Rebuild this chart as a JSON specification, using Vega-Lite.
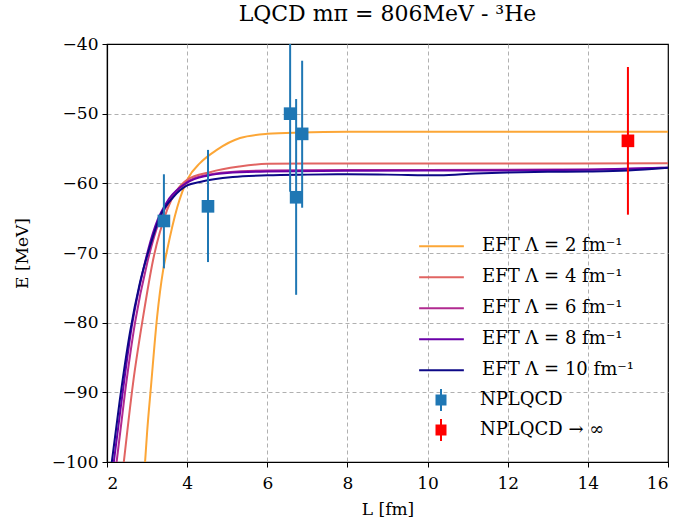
{
  "$schema": "https://vega.github.io/schema/vega-lite/v6.json",
  "width": 561,
  "height": 418,
  "autosize": {"type": "none"},
  "padding": {"left": 107, "top": 44, "right": 13, "bottom": 65},
  "background": "white",
  "title": {"text": "LQCD mπ = 806MeV - ³He", "font": "DejaVu Serif", "fontSize": 22, "fontWeight": "normal", "offset": 9, "color": "#000"},
  "config": {
    "view": {"stroke": "#000", "strokeWidth": 1.2},
    "axis": {
      "labelFont": "DejaVu Serif", "labelFontSize": 17, "labelColor": "#000",
      "titleFont": "DejaVu Serif", "titleFontSize": 17, "titleFontWeight": "normal", "titleColor": "#000",
      "grid": true, "gridColor": "#b0b0b0", "gridDash": [4, 3], "gridWidth": 1,
      "domainColor": "#000", "domainWidth": 1.2, "tickColor": "#000", "tickSize": 5, "tickWidth": 1, "labelPadding": 4
    },
    "legend": {"labelFont": "DejaVu Serif", "labelFontSize": 18, "labelColor": "#000"}
  },
  "datasets": {
    "eft": [
      {"L": 2.95, "E": -100, "model": "EFT Λ = 2 fm⁻¹"},
      {"L": 3.0, "E": -95.8, "model": "EFT Λ = 2 fm⁻¹"},
      {"L": 3.1, "E": -89.0, "model": "EFT Λ = 2 fm⁻¹"},
      {"L": 3.25, "E": -79.2, "model": "EFT Λ = 2 fm⁻¹"},
      {"L": 3.4, "E": -72.5, "model": "EFT Λ = 2 fm⁻¹"},
      {"L": 3.5, "E": -69.6, "model": "EFT Λ = 2 fm⁻¹"},
      {"L": 3.75, "E": -63.5, "model": "EFT Λ = 2 fm⁻¹"},
      {"L": 4.02, "E": -59.3, "model": "EFT Λ = 2 fm⁻¹"},
      {"L": 4.32, "E": -57.1, "model": "EFT Λ = 2 fm⁻¹"},
      {"L": 4.74, "E": -55.2, "model": "EFT Λ = 2 fm⁻¹"},
      {"L": 5.32, "E": -53.5, "model": "EFT Λ = 2 fm⁻¹"},
      {"L": 6.0, "E": -52.9, "model": "EFT Λ = 2 fm⁻¹"},
      {"L": 6.82, "E": -52.7, "model": "EFT Λ = 2 fm⁻¹"},
      {"L": 8.0, "E": -52.6, "model": "EFT Λ = 2 fm⁻¹"},
      {"L": 12.0, "E": -52.6, "model": "EFT Λ = 2 fm⁻¹"},
      {"L": 16.0, "E": -52.6, "model": "EFT Λ = 2 fm⁻¹"},

      {"L": 2.42, "E": -100, "model": "EFT Λ = 4 fm⁻¹"},
      {"L": 2.65, "E": -88.7, "model": "EFT Λ = 4 fm⁻¹"},
      {"L": 2.9, "E": -79.2, "model": "EFT Λ = 4 fm⁻¹"},
      {"L": 3.15, "E": -71.0, "model": "EFT Λ = 4 fm⁻¹"},
      {"L": 3.5, "E": -63.8, "model": "EFT Λ = 4 fm⁻¹"},
      {"L": 4.0, "E": -59.5, "model": "EFT Λ = 4 fm⁻¹"},
      {"L": 4.57, "E": -58.4, "model": "EFT Λ = 4 fm⁻¹"},
      {"L": 5.3, "E": -57.6, "model": "EFT Λ = 4 fm⁻¹"},
      {"L": 6.0, "E": -57.2, "model": "EFT Λ = 4 fm⁻¹"},
      {"L": 8.0, "E": -57.15, "model": "EFT Λ = 4 fm⁻¹"},
      {"L": 12.0, "E": -57.15, "model": "EFT Λ = 4 fm⁻¹"},
      {"L": 16.0, "E": -57.1, "model": "EFT Λ = 4 fm⁻¹"},

      {"L": 2.24, "E": -100, "model": "EFT Λ = 6 fm⁻¹"},
      {"L": 2.45, "E": -90.0, "model": "EFT Λ = 6 fm⁻¹"},
      {"L": 2.7, "E": -80.0, "model": "EFT Λ = 6 fm⁻¹"},
      {"L": 3.0, "E": -71.5, "model": "EFT Λ = 6 fm⁻¹"},
      {"L": 3.3, "E": -65.5, "model": "EFT Λ = 6 fm⁻¹"},
      {"L": 3.65, "E": -61.8, "model": "EFT Λ = 6 fm⁻¹"},
      {"L": 4.0, "E": -59.8, "model": "EFT Λ = 6 fm⁻¹"},
      {"L": 4.5, "E": -58.8, "model": "EFT Λ = 6 fm⁻¹"},
      {"L": 5.0, "E": -58.4, "model": "EFT Λ = 6 fm⁻¹"},
      {"L": 6.0, "E": -58.15, "model": "EFT Λ = 6 fm⁻¹"},
      {"L": 8.0, "E": -58.1, "model": "EFT Λ = 6 fm⁻¹"},
      {"L": 12.0, "E": -58.05, "model": "EFT Λ = 6 fm⁻¹"},
      {"L": 14.0, "E": -58.0, "model": "EFT Λ = 6 fm⁻¹"},
      {"L": 16.0, "E": -57.75, "model": "EFT Λ = 6 fm⁻¹"},

      {"L": 2.17, "E": -100, "model": "EFT Λ = 8 fm⁻¹"},
      {"L": 2.38, "E": -90.5, "model": "EFT Λ = 8 fm⁻¹"},
      {"L": 2.62, "E": -80.5, "model": "EFT Λ = 8 fm⁻¹"},
      {"L": 2.9, "E": -72.5, "model": "EFT Λ = 8 fm⁻¹"},
      {"L": 3.2, "E": -66.2, "model": "EFT Λ = 8 fm⁻¹"},
      {"L": 3.55, "E": -62.2, "model": "EFT Λ = 8 fm⁻¹"},
      {"L": 4.0, "E": -59.9, "model": "EFT Λ = 8 fm⁻¹"},
      {"L": 4.5, "E": -58.9, "model": "EFT Λ = 8 fm⁻¹"},
      {"L": 5.0, "E": -58.5, "model": "EFT Λ = 8 fm⁻¹"},
      {"L": 6.0, "E": -58.3, "model": "EFT Λ = 8 fm⁻¹"},
      {"L": 8.0, "E": -58.2, "model": "EFT Λ = 8 fm⁻¹"},
      {"L": 12.0, "E": -58.15, "model": "EFT Λ = 8 fm⁻¹"},
      {"L": 14.0, "E": -58.05, "model": "EFT Λ = 8 fm⁻¹"},
      {"L": 16.0, "E": -57.75, "model": "EFT Λ = 8 fm⁻¹"},

      {"L": 2.12, "E": -100, "model": "EFT Λ = 10 fm⁻¹"},
      {"L": 2.32, "E": -91.1, "model": "EFT Λ = 10 fm⁻¹"},
      {"L": 2.57, "E": -81.5, "model": "EFT Λ = 10 fm⁻¹"},
      {"L": 2.82, "E": -74.3, "model": "EFT Λ = 10 fm⁻¹"},
      {"L": 3.07, "E": -69.1, "model": "EFT Λ = 10 fm⁻¹"},
      {"L": 3.32, "E": -64.8, "model": "EFT Λ = 10 fm⁻¹"},
      {"L": 3.65, "E": -62.0, "model": "EFT Λ = 10 fm⁻¹"},
      {"L": 4.0, "E": -60.3, "model": "EFT Λ = 10 fm⁻¹"},
      {"L": 4.32, "E": -59.8, "model": "EFT Λ = 10 fm⁻¹"},
      {"L": 5.14, "E": -59.1, "model": "EFT Λ = 10 fm⁻¹"},
      {"L": 6.0, "E": -58.85, "model": "EFT Λ = 10 fm⁻¹"},
      {"L": 7.0, "E": -58.75, "model": "EFT Λ = 10 fm⁻¹"},
      {"L": 8.0, "E": -58.7, "model": "EFT Λ = 10 fm⁻¹"},
      {"L": 9.0, "E": -58.75, "model": "EFT Λ = 10 fm⁻¹"},
      {"L": 10.3, "E": -58.85, "model": "EFT Λ = 10 fm⁻¹"},
      {"L": 11.2, "E": -58.6, "model": "EFT Λ = 10 fm⁻¹"},
      {"L": 12.0, "E": -58.45, "model": "EFT Λ = 10 fm⁻¹"},
      {"L": 13.0, "E": -58.35, "model": "EFT Λ = 10 fm⁻¹"},
      {"L": 14.0, "E": -58.3, "model": "EFT Λ = 10 fm⁻¹"},
      {"L": 15.0, "E": -58.15, "model": "EFT Λ = 10 fm⁻¹"},
      {"L": 16.0, "E": -57.75, "model": "EFT Λ = 10 fm⁻¹"}
    ],
    "lqcd": [
      {"L": 3.42, "E": -65.4, "lo": -72.2, "hi": -58.7, "source": "NPLQCD"},
      {"L": 4.52, "E": -63.3, "lo": -71.3, "hi": -55.2, "source": "NPLQCD"},
      {"L": 6.57, "E": -50.0, "lo": -61.2, "hi": -38.8, "source": "NPLQCD"},
      {"L": 6.72, "E": -62.0, "lo": -76.0, "hi": -47.9, "source": "NPLQCD"},
      {"L": 6.87, "E": -52.9, "lo": -63.5, "hi": -42.4, "source": "NPLQCD"},
      {"L": 15.0, "E": -53.9, "lo": -64.5, "hi": -43.3, "source": "NPLQCD → ∞"}
    ]
  },
  "layer": [
    {
      "data": {"name": "eft"},
      "mark": {"type": "line", "strokeWidth": 2, "clip": true, "interpolate": "monotone"},
      "encoding": {
        "x": {"field": "L", "type": "quantitative", "scale": {"domain": [2, 16], "nice": false},
          "axis": {"title": "L [fm]", "values": [2, 4, 6, 8, 10, 12, 14, 16], "labelPadding": 8, "titlePadding": 10,
            "gridOpacity": {"condition": {"test": "datum.value == 2 || datum.value == 16", "value": 0}, "value": 1}}},
        "y": {"field": "E", "type": "quantitative", "scale": {"domain": [-100, -40], "nice": false, "zero": false},
          "axis": {"title": "E [MeV]", "values": [-100, -90, -80, -70, -60, -50, -40], "titlePadding": 20,
            "gridOpacity": {"condition": {"test": "datum.value == -100 || datum.value == -40", "value": 0}, "value": 1}}},
        "stroke": {
          "field": "model", "type": "nominal",
          "scale": {"domain": ["EFT Λ = 2 fm⁻¹", "EFT Λ = 4 fm⁻¹", "EFT Λ = 6 fm⁻¹", "EFT Λ = 8 fm⁻¹", "EFT Λ = 10 fm⁻¹"], "range": ["#fca636", "#e16462", "#b12a90", "#6a00a8", "#0d0887"]},
          "legend": {"title": null, "orient": "none", "legendX": 311, "legendY": 187, "symbolType": "stroke", "symbolSize": 2000, "symbolStrokeWidth": 2, "clipHeight": 30.5, "rowPadding": 0, "labelOffset": 17}
        },
        "order": {"field": "L", "type": "quantitative"}
      }
    },
    {
      "data": {"name": "lqcd"},
      "mark": {"type": "rule", "strokeWidth": 2, "clip": true},
      "encoding": {
        "x": {"field": "L", "type": "quantitative"},
        "y": {"field": "lo", "type": "quantitative"},
        "y2": {"field": "hi"},
        "color": {"field": "source", "type": "nominal", "scale": {"domain": ["NPLQCD", "NPLQCD → ∞"], "range": ["#1f77b4", "#ff0000"]}}
      }
    },
    {
      "data": {"name": "lqcd"},
      "mark": {"type": "point", "shape": "square", "filled": true, "size": 160, "opacity": 1, "clip": true},
      "encoding": {
        "x": {"field": "L", "type": "quantitative"},
        "y": {"field": "E", "type": "quantitative"},
        "color": {"field": "source", "type": "nominal", "legend": {"title": null, "orient": "none", "legendX": 311, "legendY": 341, "symbolType": "M-0.5,-0.5H0.5V0.5H-0.5Z M-0.09,-1H0.09V1H-0.09Z", "symbolSize": 484, "symbolStrokeWidth": 0, "symbolOpacity": 1, "clipHeight": 30, "rowPadding": 0, "labelOffset": 28, "symbolOffset": 12}}
      }
    }
  ]
}
